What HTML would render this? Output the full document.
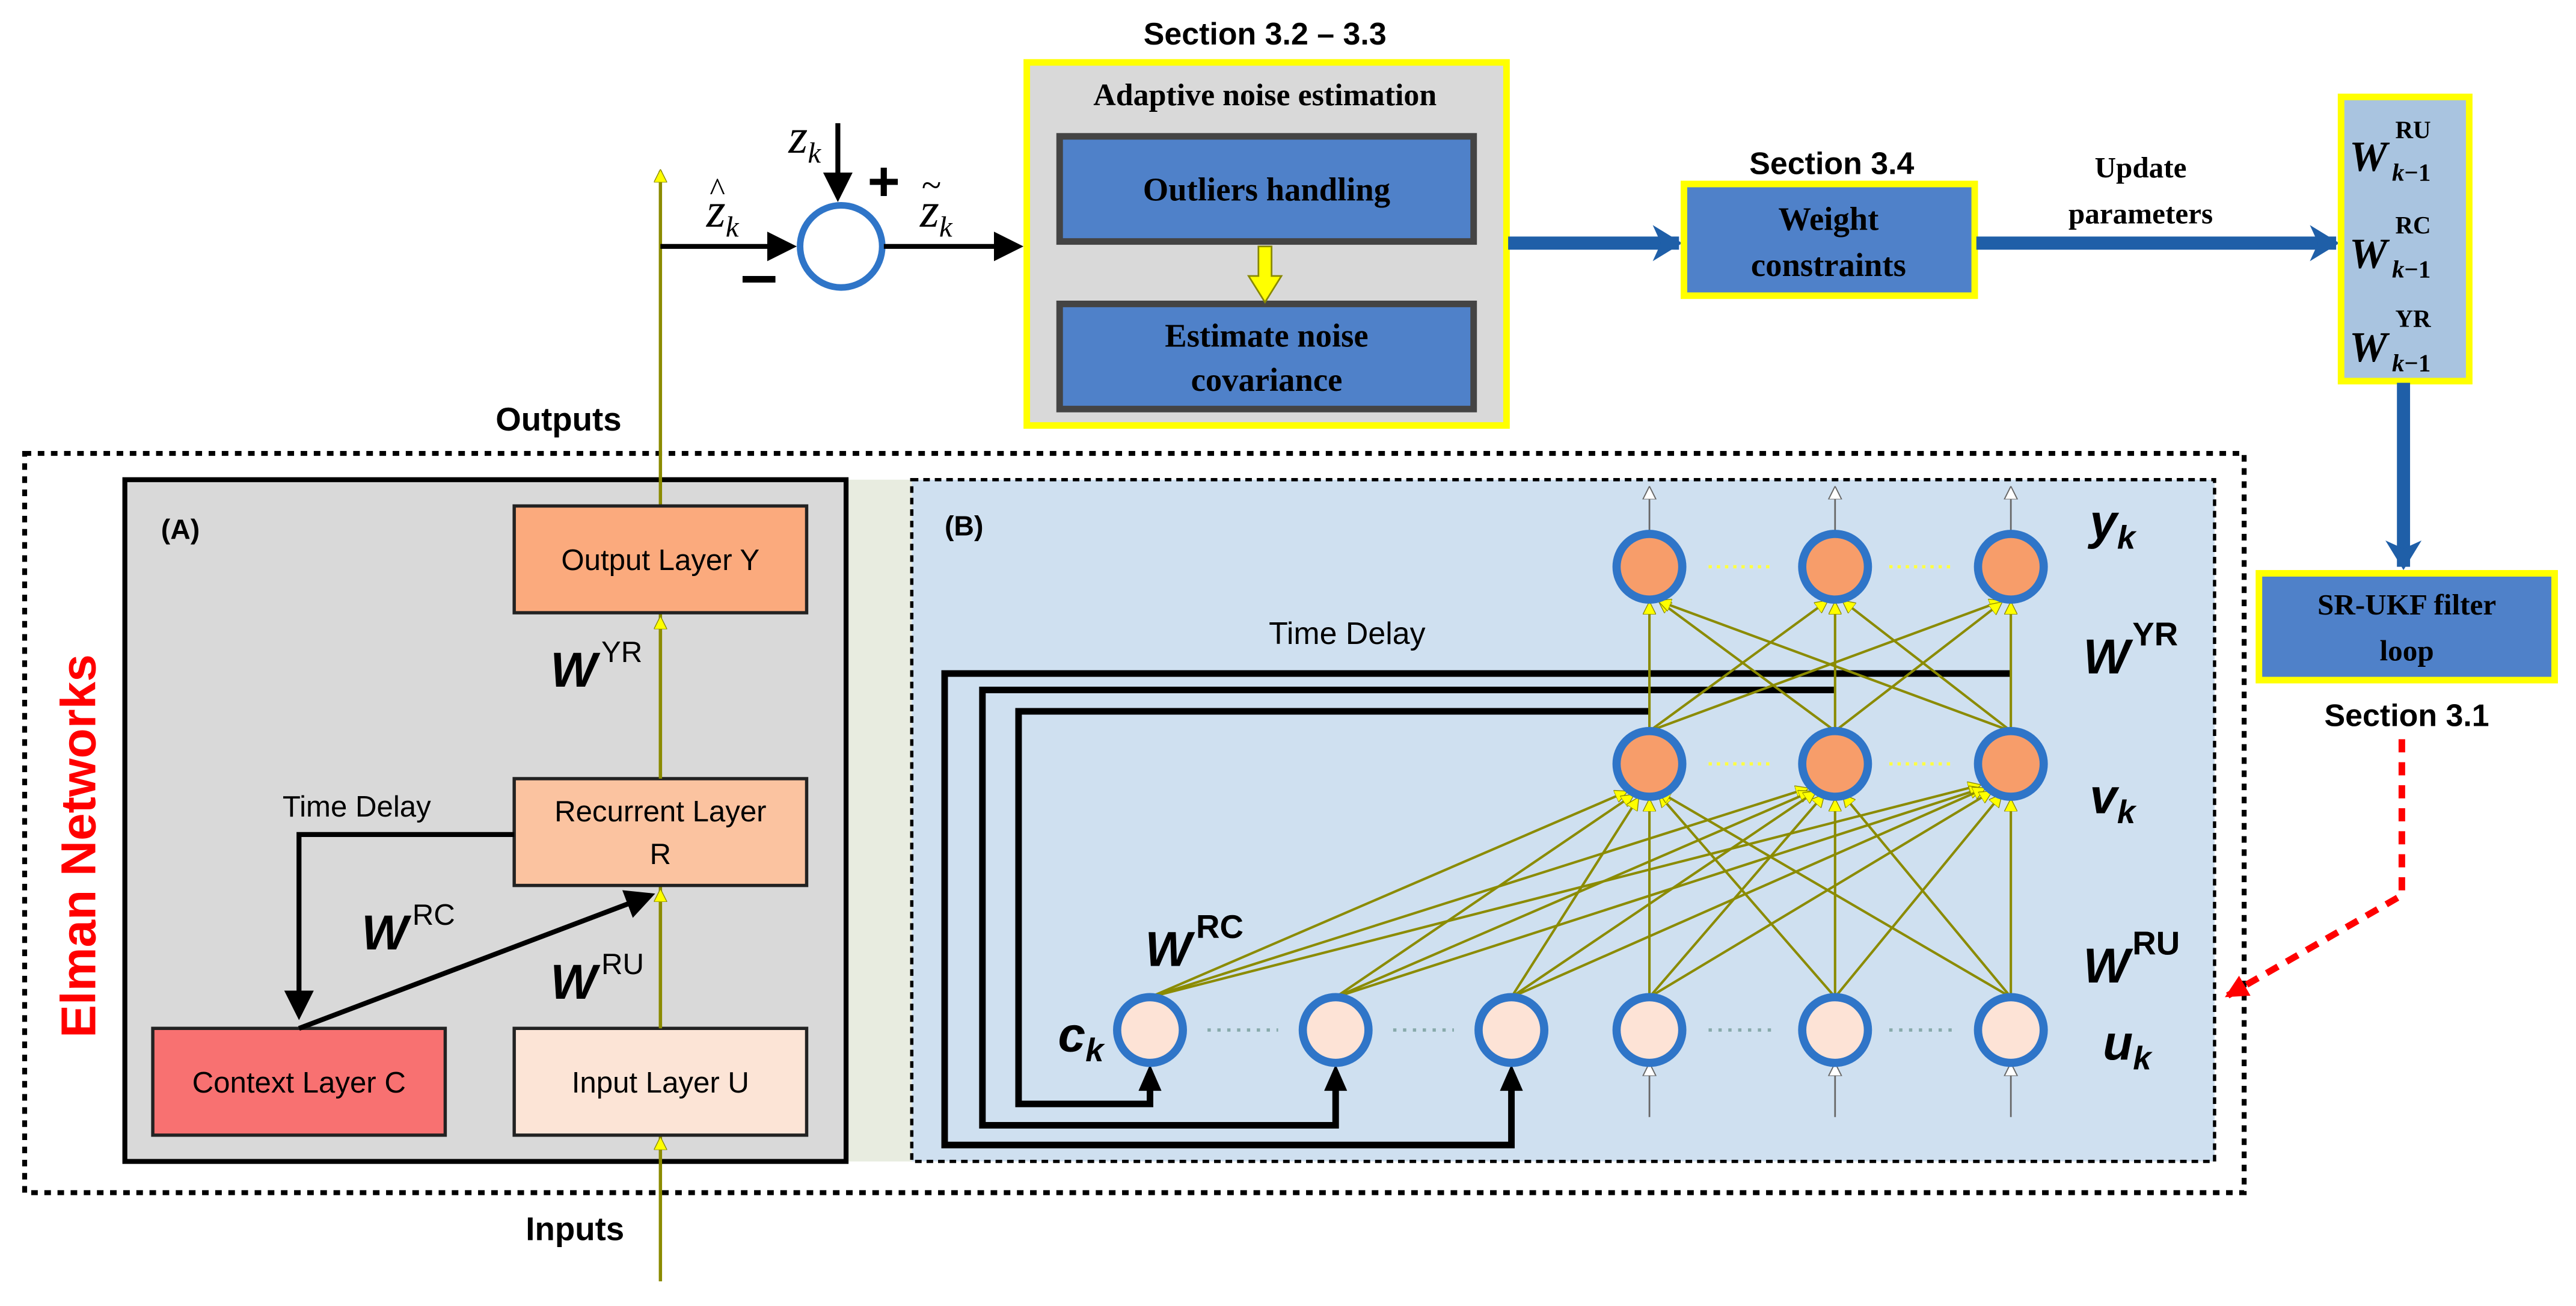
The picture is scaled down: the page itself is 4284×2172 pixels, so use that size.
<!DOCTYPE html>
<html><head><meta charset="utf-8"><style>html,body{margin:0;padding:0;background:#fff}svg{display:block}</style></head><body>
<svg width="4284" height="2172" viewBox="0 0 1568 795" preserveAspectRatio="none" xmlns="http://www.w3.org/2000/svg" font-family="Liberation Sans, sans-serif">
<defs>
<marker id="ab" markerWidth="6" markerHeight="6" refX="5" refY="3" orient="auto" markerUnits="strokeWidth"><path d="M0,0 L6,3 L0,6 z" fill="#000"/></marker>
<marker id="ay" markerWidth="8" markerHeight="8" refX="7" refY="4" orient="auto" markerUnits="userSpaceOnUse"><path d="M0,0 L8,4 L0,8 z" fill="#ffff00" stroke="#888800" stroke-width="0.5"/></marker>
<marker id="aw" markerWidth="8" markerHeight="10" refX="7" refY="5" orient="auto" markerUnits="userSpaceOnUse"><path d="M0,1 L8,5 L0,9 z" fill="#fff" stroke="#666" stroke-width="0.7"/></marker>
<marker id="abl" markerWidth="18" markerHeight="22" refX="16" refY="11" orient="auto" markerUnits="userSpaceOnUse"><path d="M0,0 L18,11 L0,22 L5,11 z" fill="#1f5fa8"/></marker>
<marker id="ar" markerWidth="14" markerHeight="14" refX="12" refY="7" orient="auto" markerUnits="userSpaceOnUse"><path d="M0,0 L14,7 L0,14 z" fill="#ff0000"/></marker>
</defs>
<rect x="15" y="276" width="1351" height="450" fill="none" stroke="#000" stroke-width="3" stroke-dasharray="4,4"/>
<text transform="translate(58,515) rotate(-90)" text-anchor="middle" font-size="30" font-weight="bold" fill="#ff0000">Elman Networks</text>
<polygon points="515,292 555,292 555,707 515,707" fill="#e8ece0"/>
<rect x="76" y="292" width="439" height="415" fill="#d9d9d9" stroke="#000" stroke-width="3"/>
<text x="98" y="328" font-size="17" font-weight="bold">(A)</text>
<line x1="402" y1="780" x2="402" y2="104" stroke="#8b8b00" stroke-width="2" marker-end="url(#ay)"/>
<rect x="313" y="308" width="178" height="65" fill="#fbaa7d" stroke="#222" stroke-width="2"/>
<text x="402" y="347" font-size="18" text-anchor="middle">Output Layer Y</text>
<rect x="313" y="474" width="178" height="65" fill="#fbc3a0" stroke="#222" stroke-width="2"/>
<text x="402" y="500" font-size="18" text-anchor="middle">Recurrent Layer</text>
<text x="402" y="526" font-size="18" text-anchor="middle">R</text>
<rect x="93" y="626" width="178" height="65" fill="#f87171" stroke="#222" stroke-width="2"/>
<text x="182" y="665" font-size="18" text-anchor="middle">Context Layer C</text>
<rect x="313" y="626" width="178" height="65" fill="#fce4d6" stroke="#222" stroke-width="2"/>
<text x="402" y="665" font-size="18" text-anchor="middle">Input Layer U</text>
<line x1="402" y1="626" x2="402" y2="542" stroke="#8b8b00" stroke-width="2" marker-end="url(#ay)"/>
<line x1="402" y1="474" x2="402" y2="376" stroke="#8b8b00" stroke-width="2" marker-end="url(#ay)"/>
<line x1="402" y1="700" x2="402" y2="693" stroke="#8b8b00" stroke-width="2" marker-end="url(#ay)"/>
<text x="335" y="418" font-size="30" font-style="italic" font-weight="bold">W</text><text x="366" y="403" font-size="18">YR</text>
<text x="335" y="608" font-size="30" font-style="italic" font-weight="bold">W</text><text x="366" y="593" font-size="18">RU</text>
<text x="220" y="578" font-size="30" font-style="italic" font-weight="bold">W</text><text x="251" y="563" font-size="18">RC</text>
<text x="172" y="497" font-size="18">Time Delay</text>
<polyline points="313,508 182,508 182,618" fill="none" stroke="#000" stroke-width="3" marker-end="url(#ab)"/>
<line x1="182" y1="626" x2="396" y2="545" stroke="#000" stroke-width="3" marker-end="url(#ab)"/>
<text x="340" y="262" font-size="20" font-weight="bold" text-anchor="middle">Outputs</text>
<text x="350" y="755" font-size="20" font-weight="bold" text-anchor="middle">Inputs</text>
<rect x="555" y="292" width="793" height="415" fill="#cfe0f0" stroke="#000" stroke-width="2" stroke-dasharray="4,3"/>
<text x="575" y="326" font-size="17" font-weight="bold">(B)</text>
<text x="820" y="392" font-size="19" text-anchor="middle">Time Delay</text>
<g stroke="#000" stroke-width="4" fill="none">
<polyline points="1224,410 575,410 575,697 920,697 920,660"/>
<polyline points="1117,420 598,420 598,685 813,685 813,660"/>
<polyline points="1004,433 620,433 620,672 700,672 700,660"/>
</g>
<g fill="#000"><path d="M913,664 L920,648 L927,664z"/><path d="M806,664 L813,648 L820,664z"/><path d="M693,664 L700,648 L707,664z"/></g>
<g stroke="#8b8b00" stroke-width="1.5" marker-end="url(#ay)">
<line x1="1004" y1="445" x2="1004" y2="367"/><line x1="1004" y1="445" x2="1112" y2="366"/><line x1="1004" y1="445" x2="1218" y2="366"/>
<line x1="1117" y1="445" x2="1010" y2="366"/><line x1="1117" y1="445" x2="1117" y2="367"/><line x1="1117" y1="445" x2="1218" y2="367"/>
<line x1="1224" y1="445" x2="1010" y2="366"/><line x1="1224" y1="445" x2="1122" y2="366"/><line x1="1224" y1="445" x2="1224" y2="367"/>
</g>
<g stroke="#8b8b00" stroke-width="1.5" marker-end="url(#ay)">
<line x1="700" y1="607" x2="990" y2="482"/><line x1="700" y1="607" x2="1100" y2="480"/><line x1="700" y1="607" x2="1205" y2="478"/>
<line x1="813" y1="607" x2="994" y2="484"/><line x1="813" y1="607" x2="1102" y2="482"/><line x1="813" y1="607" x2="1206" y2="480"/>
<line x1="920" y1="607" x2="997" y2="486"/><line x1="920" y1="607" x2="1105" y2="482"/><line x1="920" y1="607" x2="1208" y2="480"/>
<line x1="1004" y1="607" x2="1004" y2="487"/><line x1="1004" y1="607" x2="1110" y2="484"/><line x1="1004" y1="607" x2="1212" y2="482"/>
<line x1="1117" y1="607" x2="1010" y2="484"/><line x1="1117" y1="607" x2="1117" y2="487"/><line x1="1117" y1="607" x2="1218" y2="484"/>
<line x1="1224" y1="607" x2="1010" y2="482"/><line x1="1224" y1="607" x2="1122" y2="484"/><line x1="1224" y1="607" x2="1224" y2="487"/>
</g>
<g stroke="#666" stroke-width="1" marker-end="url(#aw)">
<line x1="1004" y1="325" x2="1004" y2="297"/><line x1="1117" y1="325" x2="1117" y2="297"/><line x1="1224" y1="325" x2="1224" y2="297"/>
<line x1="1004" y1="680" x2="1004" y2="648"/><line x1="1117" y1="680" x2="1117" y2="648"/><line x1="1224" y1="680" x2="1224" y2="648"/>
</g>
<g stroke="#2f75c8" stroke-width="5">
<circle cx="1004" cy="345" r="20" fill="#f79d6a"/><circle cx="1117" cy="345" r="20" fill="#f79d6a"/><circle cx="1224" cy="345" r="20" fill="#f79d6a"/>
<circle cx="1004" cy="465" r="20" fill="#f79d6a"/><circle cx="1117" cy="465" r="20" fill="#f79d6a"/><circle cx="1224" cy="465" r="20" fill="#f79d6a"/>
<circle cx="700" cy="627" r="20" fill="#fde3d6"/><circle cx="813" cy="627" r="20" fill="#fde3d6"/><circle cx="920" cy="627" r="20" fill="#fde3d6"/>
<circle cx="1004" cy="627" r="20" fill="#fde3d6"/><circle cx="1117" cy="627" r="20" fill="#fde3d6"/><circle cx="1224" cy="627" r="20" fill="#fde3d6"/>
</g>
<g stroke="#ffff44" stroke-width="2" stroke-dasharray="2,3">
<line x1="1040" y1="345" x2="1080" y2="345"/><line x1="1150" y1="345" x2="1190" y2="345"/>
<line x1="1040" y1="465" x2="1080" y2="465"/><line x1="1150" y1="465" x2="1190" y2="465"/>
</g>
<g stroke="#8aa" stroke-width="2" stroke-dasharray="2,4">
<line x1="735" y1="627" x2="778" y2="627"/><line x1="848" y1="627" x2="885" y2="627"/>
<line x1="1040" y1="627" x2="1080" y2="627"/><line x1="1150" y1="627" x2="1190" y2="627"/>
</g>
<g font-style="italic" font-weight="bold">
<text x="1272" y="328" font-size="30">y<tspan font-size="20" dy="6">k</tspan></text>
<text x="1268" y="410" font-size="30">W</text><text x="1298" y="393" font-size="20" font-style="normal">YR</text>
<text x="1272" y="495" font-size="30">v<tspan font-size="20" dy="6">k</tspan></text>
<text x="1268" y="598" font-size="30">W</text><text x="1298" y="581" font-size="20" font-style="normal">RU</text>
<text x="1280" y="645" font-size="30">u<tspan font-size="20" dy="6">k</tspan></text>
<text x="697" y="588" font-size="30">W</text><text x="728" y="571" font-size="20" font-style="normal">RC</text>
<text x="644" y="640" font-size="30">c<tspan font-size="20" dy="6">k</tspan></text>
</g>
<line x1="402" y1="150" x2="482" y2="150" stroke="#000" stroke-width="3" marker-end="url(#ab)"/>
<circle cx="512" cy="150" r="25" fill="#fff" stroke="#2f75c8" stroke-width="4"/>
<line x1="510" y1="75" x2="510" y2="120" stroke="#000" stroke-width="3" marker-end="url(#ab)"/>
<line x1="538" y1="150" x2="620" y2="150" stroke="#000" stroke-width="3" marker-end="url(#ab)"/>
<g font-family="Liberation Serif, serif" font-style="italic" font-size="30">
<text x="430" y="138">z<tspan font-size="18" dy="6">k</tspan></text><text x="432" y="122" font-style="normal" font-size="20">^</text>
<text x="480" y="93">z<tspan font-size="18" dy="6">k</tspan></text>
<text x="560" y="138">z<tspan font-size="18" dy="6">k</tspan></text><text x="561" y="120" font-style="normal" font-size="22">~</text>
</g>
<text x="528" y="122" font-size="34" font-weight="bold">+</text>
<rect x="452" y="168" width="20" height="4" fill="#000"/>
<text x="770" y="27" font-size="19" font-weight="bold" text-anchor="middle">Section 3.2 – 3.3</text>
<rect x="625" y="38" width="292" height="221" fill="#d9d9d9" stroke="#ffff00" stroke-width="4"/>
<text x="770" y="64" font-size="19" font-weight="bold" text-anchor="middle" font-family="Liberation Serif, serif">Adaptive noise estimation</text>
<rect x="645" y="83" width="252" height="64" fill="#4f81c9" stroke="#444" stroke-width="4"/>
<text x="771" y="122" font-size="20" font-weight="bold" text-anchor="middle" font-family="Liberation Serif, serif">Outliers handling</text>
<rect x="645" y="185" width="252" height="64" fill="#4f81c9" stroke="#444" stroke-width="4"/>
<text x="771" y="211" font-size="20" font-weight="bold" text-anchor="middle" font-family="Liberation Serif, serif">Estimate noise</text>
<text x="771" y="238" font-size="20" font-weight="bold" text-anchor="middle" font-family="Liberation Serif, serif">covariance</text>
<path d="M766,150 L774,150 L774,168 L780,168 L770,184 L760,168 L766,168z" fill="#ffff00" stroke="#888800"/>
<line x1="918" y1="148" x2="1022" y2="148" stroke="#1f5fa8" stroke-width="8" marker-end="url(#abl)"/>
<text x="1115" y="106" font-size="19" font-weight="bold" text-anchor="middle">Section 3.4</text>
<rect x="1025" y="112" width="177" height="68" fill="#4f81c9" stroke="#ffff00" stroke-width="4"/>
<text x="1113" y="140" font-size="20" font-weight="bold" text-anchor="middle" font-family="Liberation Serif, serif">Weight</text>
<text x="1113" y="168" font-size="20" font-weight="bold" text-anchor="middle" font-family="Liberation Serif, serif">constraints</text>
<line x1="1203" y1="148" x2="1422" y2="148" stroke="#1f5fa8" stroke-width="8" marker-end="url(#abl)"/>
<text x="1303" y="108" font-size="18" font-weight="bold" text-anchor="middle" font-family="Liberation Serif, serif">Update</text>
<text x="1303" y="136" font-size="18" font-weight="bold" text-anchor="middle" font-family="Liberation Serif, serif">parameters</text>
<rect x="1425" y="59" width="78" height="173" fill="#a9c4e0" stroke="#ffff00" stroke-width="4"/>
<g font-family="Liberation Serif, serif" font-weight="bold">
<text x="1430" y="104" font-size="26" font-style="italic">W</text><text x="1458" y="84" font-size="15">RU</text><text x="1456" y="110" font-size="15" font-style="italic">k<tspan font-style="normal">−1</tspan></text>
<text x="1430" y="163" font-size="26" font-style="italic">W</text><text x="1458" y="142" font-size="15">RC</text><text x="1456" y="169" font-size="15" font-style="italic">k<tspan font-style="normal">−1</tspan></text>
<text x="1430" y="220" font-size="26" font-style="italic">W</text><text x="1458" y="199" font-size="15">YR</text><text x="1456" y="226" font-size="15" font-style="italic">k<tspan font-style="normal">−1</tspan></text>
</g>
<line x1="1463" y1="233" x2="1463" y2="345" stroke="#1f5fa8" stroke-width="8" marker-end="url(#abl)"/>
<rect x="1375" y="349" width="180" height="65" fill="#4f81c9" stroke="#ffff00" stroke-width="4"/>
<text x="1465" y="374" font-size="18" font-weight="bold" text-anchor="middle" font-family="Liberation Serif, serif">SR-UKF filter</text>
<text x="1465" y="402" font-size="18" font-weight="bold" text-anchor="middle" font-family="Liberation Serif, serif">loop</text>
<text x="1465" y="442" font-size="19" font-weight="bold" text-anchor="middle">Section 3.1</text>
<polyline points="1462,450 1462,545 1356,606" fill="none" stroke="#ff0000" stroke-width="4" stroke-dasharray="8,6" marker-end="url(#ar)"/>
</svg>
</body></html>
